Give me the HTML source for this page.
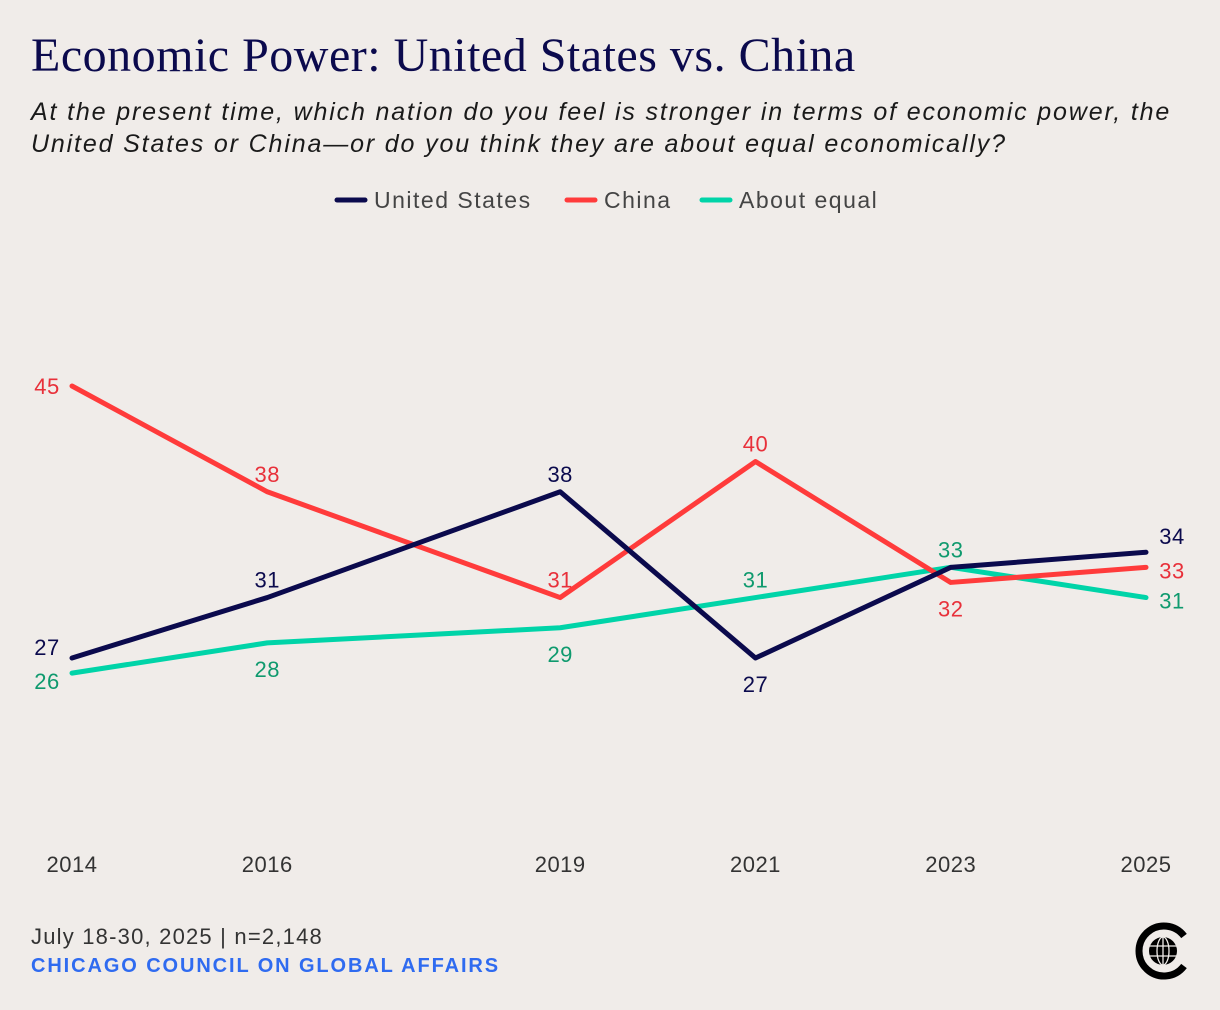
<!DOCTYPE html>
<html><head><meta charset="utf-8"><style>
body{margin:0;background:#f0ece9;}
#root{position:relative;width:1220px;height:1010px;background:#f0ece9;font-family:"Liberation Sans",sans-serif;overflow:hidden}
.title{position:absolute;left:31px;top:28px;font-family:"Liberation Serif",serif;font-size:48px;color:#0b0a4d;letter-spacing:0.5px;white-space:nowrap}
.sub{position:absolute;left:31px;top:96px;font-style:italic;font-size:25px;letter-spacing:1.85px;line-height:32px;color:#1a1a1a;white-space:nowrap}
.foot1{position:absolute;left:31px;top:924px;font-size:22px;letter-spacing:1.2px;color:#333}
.foot2{position:absolute;left:31px;top:955px;font-size:20px;font-weight:bold;color:#2f6bf0;letter-spacing:1.9px}
svg{position:absolute;left:0;top:0}
</style></head><body>
<div id="root">
<div class="title">Economic Power: United States vs. China</div>
<div class="sub">At the present time, which nation do you feel is stronger in terms of economic power, the<br>United States or China—or do you think they are about equal economically?</div>
<svg id="chart" width="1220" height="1010"></svg>
<div class="foot1">July 18-30, 2025 | n=2,148</div>
<div class="foot2">CHICAGO COUNCIL ON GLOBAL AFFAIRS</div>
<svg width="1220" height="1010">
<path d="M1184 936 A25 25 0 1 0 1184 966" fill="none" stroke="#000" stroke-width="7"/>
<circle cx="1163" cy="951" r="14" fill="#000"/>
<g stroke="#f0ece9" stroke-width="1.3" fill="none">
<ellipse cx="1163" cy="951" rx="6" ry="14"/><line x1="1149" y1="946" x2="1177" y2="946"/><line x1="1149" y1="956" x2="1177" y2="956"/><line x1="1163" y1="937" x2="1163" y2="965"/></g>
</svg>
</div>
<script>
const years=[2014,2016,2019,2021,2023,2025];
const usVals=[27,31,38,27,33,34];
const chinaVals=[45,38,31,40,32,33];
const equalVals=[26,28,29,31,33,31];
const usPlace=['UL','A','A','B','N','AR'];
const chinaPlace=['L','A','A','A','B','R'];
const equalPlace=['BL','B','B','A','A','R'];
const legendLabels=['United States','China','About equal'];
const NS='http://www.w3.org/2000/svg';
const svg=document.getElementById('chart');
function x(yr){return 72+(yr-2014)*(1146-72)/11;}
function y(v){return 658-(v-27)*(658-386)/18;}
function el(t,a){const e=document.createElementNS(NS,t);for(const k in a)e.setAttribute(k,a[k]);svg.appendChild(e);return e;}
years.forEach(yr=>{const t=el('text',{x:x(yr),y:872,'text-anchor':'middle','font-size':22,'letter-spacing':0.5,fill:'#333'});t.textContent=yr;

});
const series=[
 {vals:equalVals,place:equalPlace,color:'#00d4a8',tc:'#0f9a6e',name:'about-equal'},
 {vals:chinaVals,place:chinaPlace,color:'#ff3b3b',tc:'#e8303a',name:'china'},
 {vals:usVals,place:usPlace,color:'#0b0a4d',tc:'#0b0a4d',name:'united-states'}];
series.forEach(s=>{
 const p=el('polyline',{points:s.vals.map((v,i)=>x(years[i])+','+y(v)).join(' '),fill:'none',stroke:s.color,'stroke-width':5,'stroke-linejoin':'round','stroke-linecap':'round'});
 
 
});
series.forEach(s=>{
 s.vals.forEach((v,i)=>{const pl=s.place[i];if(pl==='N')return;
  let px=x(years[i]),py=y(v)+8;
  if(pl==='L'){px-=25;}
  else if(pl==='UL'){px-=25;py-=11;}
  else if(pl==='BL'){px-=25;py+=8;}
  else if(pl==='A'){py-=18;}
  else if(pl==='B'){py+=26;}
  else if(pl==='R'){px+=26;py+=3;}
  else if(pl==='AR'){px+=26;py-=16;}
  const t=el('text',{x:px,y:py,'text-anchor':'middle','font-size':22,'letter-spacing':0.5,fill:s.tc});t.textContent=v;
  
  
 });
});
const lx=[337,567,702],lc=['#0b0a4d','#ff3b3b','#00d4a8'];
legendLabels.forEach((l,i)=>{
 const ln=el('line',{x1:lx[i],y1:200,x2:lx[i]+28,y2:200,stroke:lc[i],'stroke-width':5,'stroke-linecap':'round'});
 
 
 const t=el('text',{x:lx[i]+37,y:208,'font-size':23,'letter-spacing':1.5,fill:'#444'});t.textContent=l;
 
 
});
</script>
</body></html>
